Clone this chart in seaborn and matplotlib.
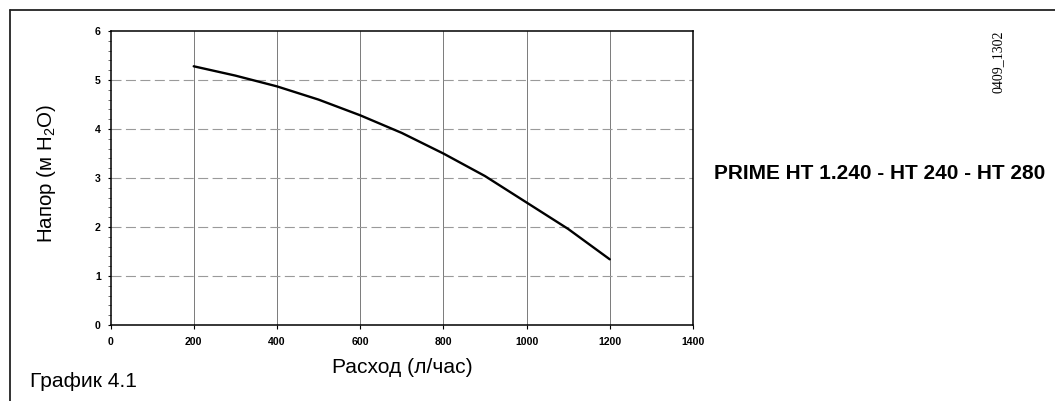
from __future__ import annotations

import matplotlib

matplotlib.use("Agg")
import matplotlib.pyplot as plt
import pandas as pd
import seaborn as sns
from matplotlib.lines import Line2D
from matplotlib.ticker import MultipleLocator

# pump curve
flow_lph = [200, 300, 400, 500, 600, 700, 800, 900, 1000, 1100, 1200]
head_m = [5.28, 5.09, 4.87, 4.60, 4.28, 3.92, 3.50, 3.04, 2.50, 1.96, 1.34]

x_ticks = [0, 200, 400, 600, 800, 1000, 1200, 1400]
y_ticks = [0, 1, 2, 3, 4, 5, 6]

title_text = "PRIME HT 1.240 - HT 240 - HT 280"
ylabel_text = "Напор (м H$_2$O)"
xlabel_text = "Расход (л/час)"
caption_text = "График 4.1"
code_text = "0409_1302"

W, H = 1055, 401

sns.set_theme(style="white")
plt.rcParams["font.family"] = ["Liberation Sans", "DejaVu Sans"]
plt.rcParams["mathtext.fontset"] = "custom"
plt.rcParams["mathtext.rm"] = "Liberation Sans"
plt.rcParams["mathtext.it"] = "Liberation Sans:italic"


def px(x: float, y: float) -> tuple[float, float]:
    return x / W, 1 - y / H


def main() -> None:
    df = pd.DataFrame({"flow": flow_lph, "head": head_m})

    fig = plt.figure(figsize=(W / 100, H / 100), dpi=100)
    left, top = px(110.5, 31)
    right, bottom = px(693, 325)
    ax = fig.add_axes([left, bottom, right - left, top - bottom])

    # vertical grid: solid, horizontal grid: dashed
    for xv in x_ticks[1:-1]:
        ax.axvline(xv, color="#7a7a7a", linewidth=0.7, zorder=1)
    for yv in y_ticks[1:-1]:
        ax.axhline(yv, color="#9a9a9a", linewidth=0.8, linestyle=(0, (9, 4)), zorder=1)

    sns.lineplot(data=df, x="flow", y="head", color="black", linewidth=1.7, ax=ax, zorder=3)

    ax.set_xlim(0, 1400)
    ax.set_ylim(0, 6)
    ax.set_xticks(x_ticks)
    ax.set_yticks(y_ticks)
    ax.yaxis.set_minor_locator(MultipleLocator(0.2))
    ax.set_xlabel("")
    ax.set_ylabel("")

    for side in ["left", "bottom", "top", "right"]:
        ax.spines[side].set_visible(True)
        ax.spines[side].set_color("black")
        ax.spines[side].set_linewidth(1.1)

    ax.tick_params(axis="x", which="major", direction="out", length=3, width=0.8,
                   pad=5.5, labelsize=7.6, bottom=True, colors="black")
    ax.tick_params(axis="y", which="major", direction="out", length=2.5, width=0.8,
                   pad=4.5, labelsize=7.6, left=True, colors="black")
    ax.tick_params(axis="y", which="minor", direction="out", length=2, width=0.6,
                   left=True, colors="#555555")
    for lab in ax.get_xticklabels() + ax.get_yticklabels():
        lab.set_fontweight("bold")

    # outer frame (top and left edges only)
    x0, y0 = px(10, 10)
    fig.add_artist(Line2D([x0, 1.0], [y0, y0], transform=fig.transFigure,
                          color="#222222", linewidth=1.3))
    fig.add_artist(Line2D([x0, x0], [y0, 0.0], transform=fig.transFigure,
                          color="#222222", linewidth=1.3))

    fig.text(*px(47, 173), ylabel_text, rotation=90, ha="center", va="center",
             fontsize=14.8, color="black")
    fig.text(*px(402.7, 372.7), xlabel_text, ha="center", va="baseline",
             fontsize=15.1, color="black")
    fig.text(*px(30, 386.7), caption_text, ha="left", va="baseline",
             fontsize=15.1, color="black")
    fig.text(*px(714, 179.3), title_text, ha="left", va="baseline",
             fontsize=15.0, fontweight="bold", color="black")
    fig.text(*px(998, 62), code_text, rotation=90, ha="center", va="center",
             fontsize=10, family=["Liberation Serif", "DejaVu Serif"], color="black")

    fig.savefig("out.png", dpi=100, facecolor="white")
    plt.close(fig)


if __name__ == "__main__":
    main()
